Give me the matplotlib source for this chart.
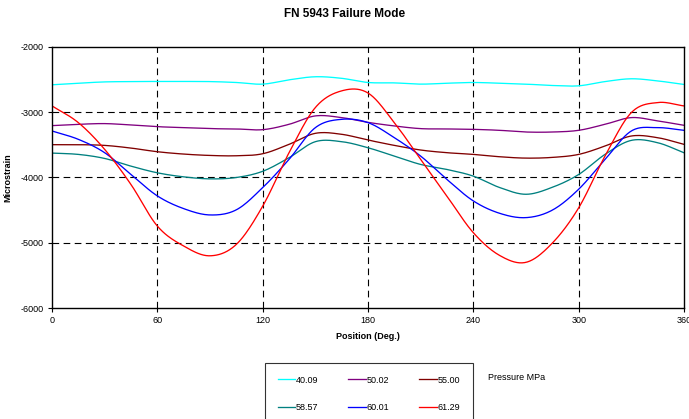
import numpy as np
import matplotlib
matplotlib.use("Agg")
import matplotlib.pyplot as plt

plt.rcParams['font.family'] = ['Liberation Sans', 'DejaVu Sans']
plt.rcParams['axes.unicode_minus'] = False

positions = [0, 15, 30, 45, 60, 75, 90, 105, 120, 135, 150, 165, 180,
             195, 210, 225, 240, 255, 270, 285, 300, 315, 330, 345, 360]

p_40_09 = [-2579, -2555, -2535, -2530, -2528, -2528, -2530, -2544, -2569, -2503, -2456, -2480, -2544,
           -2550, -2569, -2555, -2544, -2555, -2569, -2590, -2595, -2530, -2487, -2520, -2574]
p_50_02 = [-3205, -3185, -3174, -3195, -3221, -3236, -3251, -3256, -3267, -3185, -3056, -3082, -3155,
           -3210, -3251, -3256, -3262, -3277, -3303, -3303, -3277, -3185, -3082, -3133, -3200]
p_55_00 = [-3497, -3497, -3508, -3549, -3605, -3641, -3662, -3667, -3636, -3492, -3323, -3338, -3426,
           -3508, -3579, -3620, -3646, -3682, -3703, -3692, -3646, -3518, -3364, -3390, -3492]
p_58_57 = [-3626, -3646, -3708, -3826, -3928, -3990, -4021, -4000, -3905, -3697, -3451, -3451, -3544,
           -3672, -3800, -3877, -3979, -4154, -4257, -4150, -3954, -3646, -3431, -3467, -3621]
p_60_01 = [-3287, -3415, -3620, -3954, -4282, -4477, -4574, -4495, -4155, -3723, -3236, -3108, -3159,
           -3390, -3672, -4031, -4359, -4549, -4615, -4500, -4180, -3723, -3287, -3236, -3277]
p_61_29 = [-2903, -3159, -3569, -4108, -4744, -5050, -5200, -5025, -4440, -3621, -2928, -2672, -2705,
           -3159, -3723, -4287, -4846, -5195, -5300, -5005, -4465, -3672, -3005, -2851, -2903]

labels = ['40.09', '50.02', '55.00', '58.57', '60.01', '61.29']
colors = ['#00FFFF', '#800080', '#800000', '#008080', '#0000FF', '#FF0000']
series = [p_40_09, p_50_02, p_55_00, p_58_57, p_60_01, p_61_29]


def smooth(x, y, n=20):
    """Catmull-Rom spline through the points (like Excel smoothed lines)."""
    x = np.asarray(x, float)
    y = np.asarray(y, float)
    px = np.concatenate([[2 * x[0] - x[1]], x, [2 * x[-1] - x[-2]]])
    py = np.concatenate([[2 * y[0] - y[1]], y, [2 * y[-1] - y[-2]]])
    xs, ys = [], []
    t = np.linspace(0, 1, n, endpoint=False)
    for i in range(1, len(px) - 2):
        for a, c in ((xs, px[i - 1:i + 3]), (ys, py[i - 1:i + 3])):
            c0, c1, c2, c3 = c
            a.append(0.5 * ((2 * c1) + (-c0 + c2) * t +
                            (2 * c0 - 5 * c1 + 4 * c2 - c3) * t ** 2 +
                            (-c0 + 3 * c1 - 3 * c2 + c3) * t ** 3))
    xs.append([x[-1]])
    ys.append([y[-1]])
    return np.concatenate(xs), np.concatenate(ys)


fig = plt.figure(figsize=(6.89, 4.19), dpi=100)
ax = fig.add_axes([52 / 689, 1 - 308 / 419, (684 - 52) / 689, (308 - 47) / 419])

handles = []
for vals, lab, col in zip(series, labels, colors):
    sx, sy = smooth(positions, vals)
    h, = ax.plot(sx, sy, color=col, lw=0.95, label=lab)
    handles.append(h)

ax.set_xlim(0, 360)
ax.set_ylim(-6000, -2000)
ax.set_xticks([0, 60, 120, 180, 240, 300, 360])
ax.set_yticks([-6000, -5000, -4000, -3000, -2000])
ax.tick_params(labelsize=6.5, length=3, width=0.8, direction='out', pad=3)
for s in ax.spines.values():
    s.set_linewidth(1.0)
    s.set_color('black')

for xv in [60, 120, 180, 240, 300]:
    ax.axvline(xv, color='black', lw=0.8, dashes=(6, 4), zorder=0)
for yv in [-5000, -4000, -3000]:
    ax.axhline(yv, color='black', lw=0.8, dashes=(6, 4), zorder=0)

ax.set_xlabel('Position (Deg.)', fontsize=6.5, fontweight='bold', labelpad=5)
ax.set_ylabel('Microstrain', fontsize=6.5, fontweight='bold', labelpad=6)
fig.suptitle('FN 5943 Failure Mode', fontsize=8.5, fontweight='bold', y=0.98)

# row-major order in legend (matplotlib fills columns first)
order = [0, 3, 1, 4, 2, 5]
leg = fig.legend([handles[i] for i in order], [labels[i] for i in order],
                 loc='upper left', bbox_to_anchor=(265 / 689, 1 - 363 / 419),
                 ncol=3, fontsize=6.5, frameon=True, fancybox=False,
                 edgecolor='black', handlelength=1.9, handletextpad=0.15,
                 columnspacing=3.3, labelspacing=2.0, borderpad=1.4,
                 borderaxespad=0)
leg.get_frame().set_linewidth(0.8)
fig.text(488 / 689, 1 - 377 / 419, 'Pressure MPa', fontsize=6.5, va='center')

fig.savefig('out.png', dpi=100)
